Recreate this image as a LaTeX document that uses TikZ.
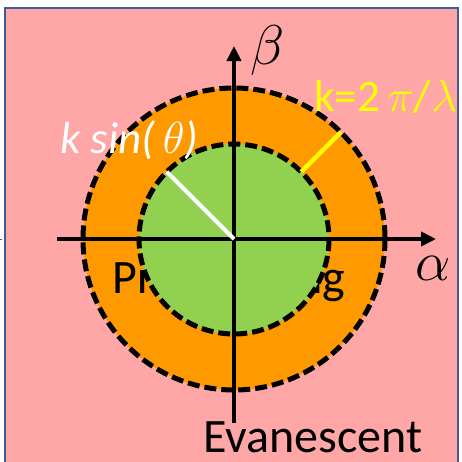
\RequirePackage{fix-cm}
\documentclass[tikz,border=0pt]{standalone}
\usepackage{fontspec}
\setmainfont{Carlito}
\usetikzlibrary{arrows.meta,calc}
\definecolor{bgpink}{RGB}{255,166,166}
\definecolor{bordblue}{RGB}{63,92,152}
\definecolor{orng}{RGB}{255,153,0}
\definecolor{grn}{RGB}{146,208,80}
\definecolor{yel}{RGB}{255,255,0}
\tikzset{
  ring/.style={draw=black,line width=5pt,dash pattern=on 12pt off 5pt},
  axis/.style={draw=black,line width=4pt,-{Triangle[length=15pt,width=14pt]}},
  lbl/.style={inner sep=0pt,font=\fontsize{48}{50}\selectfont},
}
\begin{document}
\begin{tikzpicture}[x=1pt,y=-1pt]
\useasboundingbox (0,0) rectangle (462,461);
\fill[bordblue] (0,238.5) rectangle (1.5,240);
\draw[fill=bgpink,draw=bordblue,line width=1.5pt] (5,8) rectangle (458,475);
\coordinate (O) at (234,239);
\fill[orng] (O) circle[radius=151];
\node[lbl,anchor=base] (prop) at (229,293) {Propagating};
\fill[grn] (O) circle[radius=95];
\draw[ring] (O) circle[radius=151];
\draw[ring] (O) circle[radius=95];
\coordinate (xl) at (57,239);
\coordinate (xr) at (436,239);
\coordinate (yb) at (234,423);
\coordinate (yt) at (234,46);
\draw[axis] (xl) -- (xr);
\draw[axis] (yb) -- (yt);
\coordinate (w1) at ($(O)+(225:95)$);
\coordinate (y1) at ($(O)+(315:95)$);
\coordinate (y2) at ($(O)+(315:151)$);
\draw[white,line width=4pt] (O) -- (w1);
\draw[yel,line width=4.5pt] (y1) -- (y2);
\node[inner sep=0pt,font=\fontsize{56}{58}\selectfont] (beta) at (268,50) {$\beta$};
\node[inner sep=0pt,font=\fontsize{56}{58}\selectfont] (alpha) at (433,268) {$\alpha$};
\node[inner sep=0pt,anchor=base west,text=yel,font=\fontsize{45}{47}\selectfont] (kl) at (314,111) {k=2\,$\pi$/$\lambda$};
\node[inner sep=0pt,anchor=base west,text=white,font=\fontsize{45}{47}\selectfont\itshape] (ks) at (60,153) {k sin(\,$\theta$)};
\node[lbl,anchor=base west] (ev) at (203,452) {Evanescent};
\end{tikzpicture}
\end{document}
